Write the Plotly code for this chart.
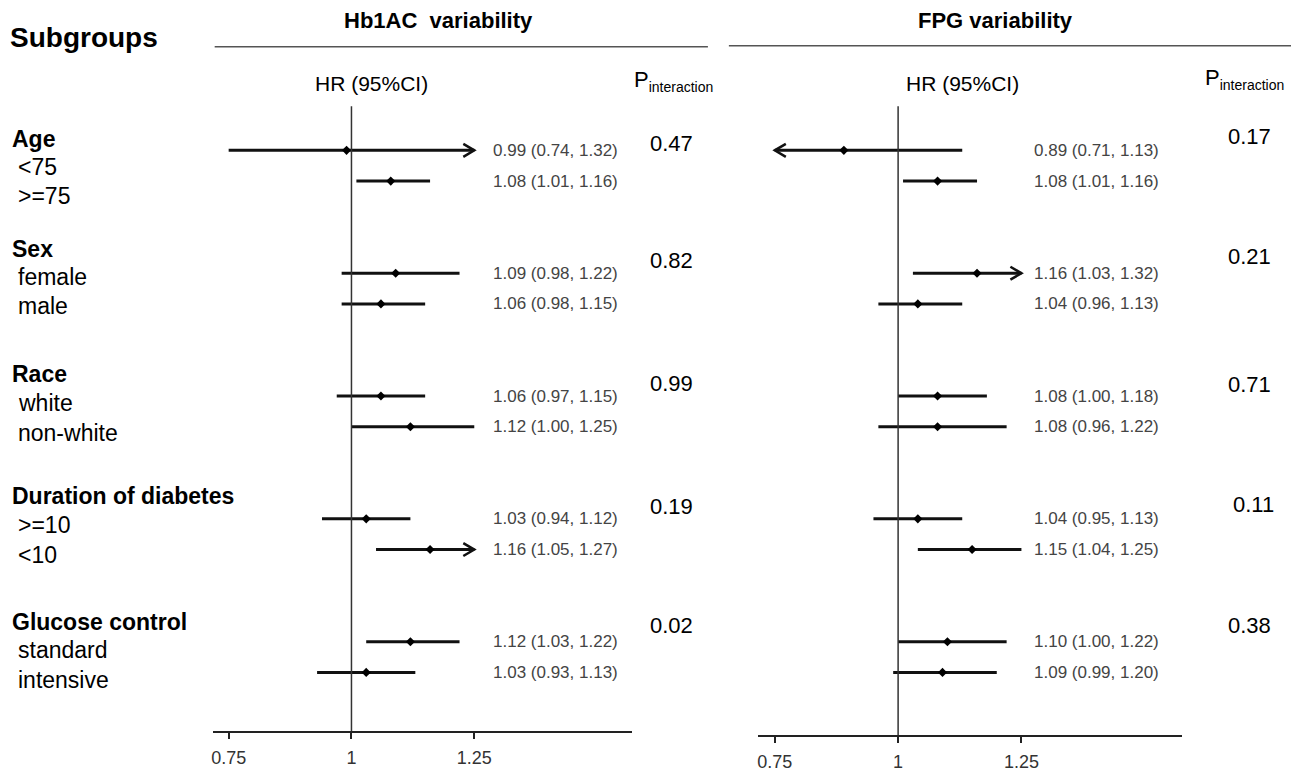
import plotly.graph_objects as go

# ---------------- data ----------------
groups = ["Age", "Sex", "Race", "Duration of diabetes", "Glucose control"]
subgroups = [["<75", ">=75"], ["female", "male"], ["white", "non-white"],
             [">=10", "<10"], ["standard", "intensive"]]

hba1c_hr = [0.99, 1.08, 1.09, 1.06, 1.06, 1.12, 1.03, 1.16, 1.12, 1.03]
hba1c_lo = [0.74, 1.01, 0.98, 0.98, 0.97, 1.00, 0.94, 1.05, 1.03, 0.93]
hba1c_hi = [1.32, 1.16, 1.22, 1.15, 1.15, 1.25, 1.12, 1.27, 1.22, 1.13]
hba1c_p = ["0.47", "0.82", "0.99", "0.19", "0.02"]

fpg_hr = [0.89, 1.08, 1.16, 1.04, 1.08, 1.08, 1.04, 1.15, 1.10, 1.09]
fpg_lo = [0.71, 1.01, 1.03, 0.96, 1.00, 0.96, 0.95, 1.04, 1.00, 0.99]
fpg_hi = [1.13, 1.16, 1.32, 1.13, 1.18, 1.22, 1.13, 1.25, 1.22, 1.20]
fpg_p = ["0.17", "0.21", "0.71", "0.11", "0.38"]

tick_vals = [0.75, 1, 1.25]
tick_text = ["0.75", "1", "1.25"]
CLIP_LO, CLIP_HI = 0.75, 1.25

# ---------------- layout helpers ----------------
OFF = 8                 # page body margin of the browser
FW, FH = 1283, 764      # figure size
FONT = "Liberation Sans, Arial, sans-serif"
ROW0_PX, ROW_PX = 151.5, 30.95  # pixel of first row and pixels per row unit
X_UNIT_PX = 492                 # pixels per HR unit
ARROW_LEN_PX, ARROW_HALF_PX = 11, 6.5


def fx(px):
    return (px - OFF) / FW


def fy(py):
    return 1 - (py - OFF) / FH


def row_index(g, s):
    return g * 4 + s


rows = [row_index(g, s) for g in range(len(groups)) for s in range(2)]

fig = go.Figure()


def add_panel(hr, lo, hi, xa, ya, text_x_px):
    xs, ys = [], []
    axs, ays = [], []
    dx = ARROW_LEN_PX / X_UNIT_PX
    dy = ARROW_HALF_PX / ROW_PX
    for r, l, h in zip(rows, lo, hi):
        xs += [max(l, CLIP_LO), min(h, CLIP_HI), None]
        ys += [r, r, None]
        if h > CLIP_HI + 0.01:
            axs += [CLIP_HI - dx, CLIP_HI, CLIP_HI - dx, None]
            ays += [r - dy, r, r + dy, None]
        if l < CLIP_LO - 0.015:
            axs += [CLIP_LO + dx, CLIP_LO, CLIP_LO + dx, None]
            ays += [r - dy, r, r + dy, None]
    fig.add_trace(go.Scatter(x=xs, y=ys, mode="lines", xaxis=xa, yaxis=ya,
                             line=dict(color="#111111", width=3),
                             hoverinfo="skip", showlegend=False))
    fig.add_trace(go.Scatter(x=axs, y=ays, mode="lines", xaxis=xa, yaxis=ya,
                             line=dict(color="#111111", width=2.5),
                             hoverinfo="skip", showlegend=False))
    fig.add_trace(go.Scatter(x=hr, y=rows, mode="markers", xaxis=xa, yaxis=ya,
                             marker=dict(symbol="diamond", size=7, color="#000000"),
                             showlegend=False))
    for r, v, l, h in zip(rows, hr, lo, hi):
        fig.add_annotation(x=fx(text_x_px), y=r, xref="paper", yref=ya,
                           text=f"{v:.2f} ({l:.2f}, {h:.2f})", showarrow=False,
                           xanchor="left", yanchor="middle",
                           font=dict(family=FONT, size=17, color="#444444"))
    fig.add_shape(type="line", x0=1, x1=1, y0=0, y1=1, xref=xa,
                  yref=f"{ya} domain", line=dict(color="#333333", width=1.5))


add_panel(hba1c_hr, hba1c_lo, hba1c_hi, "x", "y", 490)
add_panel(fpg_hr, fpg_lo, fpg_hi, "x2", "y2", 1032)


def axis_cfg(x0_px, x1_px, px_075, px_125):
    unit = (px_125 - px_075) / 0.5
    r0 = 0.75 - (px_075 - x0_px) / unit
    r1 = 1.25 + (x1_px - px_125) / unit
    return dict(domain=[fx(x0_px), fx(x1_px)], range=[r0, r1],
                showline=True, linecolor="#222222", linewidth=2,
                ticks="outside", ticklen=6, tickwidth=2, tickcolor="#222222",
                tickvals=tick_vals, ticktext=tick_text,
                tickfont=dict(family=FONT, size=18, color="#333333"),
                ticklabelstandoff=3,
                showgrid=False, zeroline=False, fixedrange=True)


def yaxis_cfg(axis_px, top_px):
    return dict(domain=[fy(axis_px), fy(top_px)],
                range=[(axis_px - ROW0_PX) / ROW_PX, (top_px - ROW0_PX) / ROW_PX],
                visible=False, showgrid=False, zeroline=False, fixedrange=True)


fig.update_layout(
    width=FW, height=FH,
    margin=dict(l=0, r=0, t=0, b=0),
    paper_bgcolor="white", plot_bgcolor="white",
    xaxis=dict(anchor="y", **axis_cfg(211, 631, 227, 473)),
    xaxis2=dict(anchor="y2", **axis_cfg(757, 1182, 774, 1021)),
    yaxis=dict(anchor="x", **yaxis_cfg(737, 107)),
    yaxis2=dict(anchor="x2", **yaxis_cfg(741, 107)),
    showlegend=False,
)


# ---------------- header texts ----------------
def txt(x, y, s, size, bold=False, color="#000000", xanchor="left"):
    fig.add_annotation(x=fx(x), y=fy(y), xref="paper", yref="paper",
                       text=f"<b>{s}</b>" if bold else s, showarrow=False,
                       xanchor=xanchor, yanchor="middle",
                       font=dict(family=FONT, size=size, color=color))


txt(6, 38, "Subgroups", 28, bold=True)
txt(437, 21, "Hb1AC  variability", 22, bold=True, xanchor="center")
txt(995, 21, "FPG variability", 22, bold=True, xanchor="center")
fig.add_shape(type="line", xref="paper", yref="paper", x0=fx(213), x1=fx(707),
              y0=fy(47), y1=fy(47), line=dict(color="#555555", width=1.5))
fig.add_shape(type="line", xref="paper", yref="paper", x0=fx(728), x1=fx(1293),
              y0=fy(46), y1=fy(46), line=dict(color="#555555", width=1.5))
txt(370, 84, "HR (95%CI)", 21, xanchor="center")
txt(962, 84, "HR (95%CI)", 21, xanchor="center")
P_INT = "P<sub><span style='font-size:14px'>interaction</span></sub>"
txt(631, 82, P_INT, 22)
txt(1203, 80, P_INT, 22)

# p-values
p_left_y = [145, 262, 386, 510, 630]
p_right_y = [138, 258, 387, 508, 630]
p_right_x = [1226, 1226, 1226, 1231, 1226]
for p, y in zip(hba1c_p, p_left_y):
    txt(647, y, p, 22)
for p, y, x in zip(fpg_p, p_right_y, p_right_x):
    txt(x, y, p, 22)

# subgroup labels
head_y = [140, 251, 377, 500, 627]
sub_y = [[168, 197], [279, 308], [406, 436], [529, 559], [655, 685]]
for g, name in enumerate(groups):
    txt(8, head_y[g], name, 23, bold=True)
    for s, lab in enumerate(subgroups[g]):
        txt(14, sub_y[g][s], lab, 23)

fig.write_html("out.html")
